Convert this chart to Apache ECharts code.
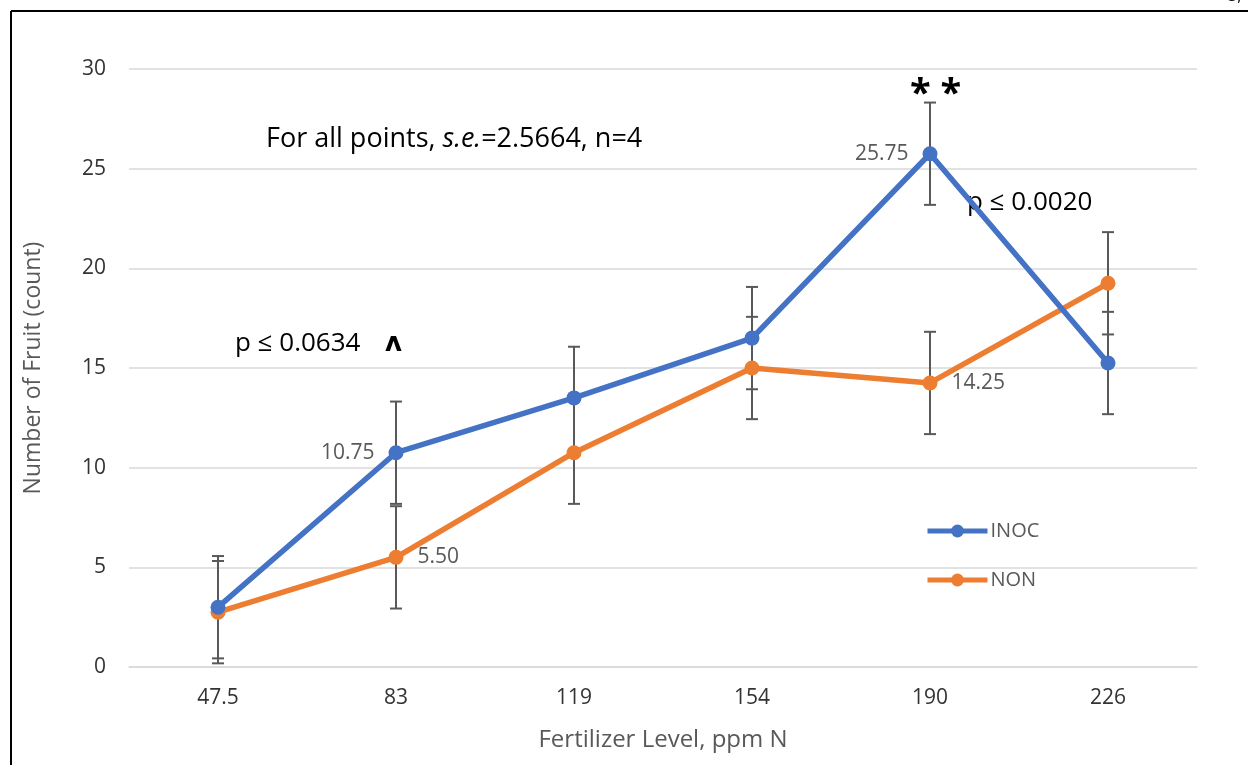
<!DOCTYPE html>
<html>
<head>
<meta charset="utf-8">
<script src="https://cdn.jsdelivr.net/npm/echarts@6/dist/echarts.min.js"></script>
<style>
html,body{margin:0;padding:0;background:#fff;}
#chart{width:1248px;height:765px;}
</style>
</head>
<body>
<div id="chart"></div>
<script>
const categories = ['47.5', '83', '119', '154', '190', '226'];
const inocValues = [3, 10.75, 13.5, 16.5, 25.75, 15.25];
const nonValues = [2.75, 5.5, 10.75, 15, 14.25, 19.25];
const stdErr = 2.5664;
const yTicks = [0, 5, 10, 15, 20, 25, 30];
// which points carry a data label and on which side
const inocLabels = {1: 'left', 4: 'left'};
const nonLabels = {1: 'right', 4: 'right'};

const FONT = '"Open Sans", "Noto Sans", sans-serif';
const BLUE = '#4472C4';
const ORANGE = '#ED7D31';

function buildData(values, labels) {
  return values.map((v, i) => {
    if (labels[i]) {
      return {
        value: v,
        label: {
          show: true, position: labels[i], distance: 14,
          formatter: p => Number(p.value).toFixed(2),
          color: '#595959', fontSize: 21, fontFamily: FONT
        }
      };
    }
    return v;
  });
}

function errSeries(values, name) {
  return {
    type: 'custom',
    name: name + '_err',
    z: 1,
    silent: true,
    data: values.map((v, i) => [i, v]),
    renderItem: function (params, api) {
      const x = api.value(0), y = api.value(1);
      const top = api.coord([x, y + stdErr]);
      const bot = api.coord([x, y - stdErr]);
      const hw = 6;
      const style = {stroke: '#595959', lineWidth: 2};
      return {
        type: 'group',
        children: [
          {type: 'line', shape: {x1: top[0], y1: top[1], x2: bot[0], y2: bot[1]}, style},
          {type: 'line', shape: {x1: top[0] - hw, y1: top[1], x2: top[0] + hw, y2: top[1]}, style},
          {type: 'line', shape: {x1: bot[0] - hw, y1: bot[1], x2: bot[0] + hw, y2: bot[1]}, style}
        ]
      };
    }
  };
}

const chart = echarts.init(document.getElementById('chart'), null, {renderer: 'canvas'});
chart.setOption({
  animation: false,
  backgroundColor: '#fff',
  grid: {left: 129, right: 51, top: 69, bottom: 98},
  xAxis: {
    type: 'category',
    data: categories,
    boundaryGap: true,
    name: 'Fertilizer Level, ppm N',
    nameLocation: 'middle',
    nameGap: 61,
    nameTextStyle: {color: '#595959', fontSize: 24, fontFamily: FONT},
    axisLine: {show: true, lineStyle: {color: '#d9d9d9', width: 1.5}},
    axisTick: {show: false},
    axisLabel: {color: '#333', fontSize: 21, fontFamily: FONT, margin: 21}
  },
  yAxis: {
    type: 'value',
    min: yTicks[0], max: yTicks[yTicks.length - 1], interval: 5,
    name: 'Number of Fruit (count)',
    nameLocation: 'middle',
    nameGap: 84,
    nameTextStyle: {color: '#595959', fontSize: 23, fontFamily: FONT},
    axisLine: {show: false},
    axisTick: {show: false},
    axisLabel: {color: '#333', fontSize: 21, fontFamily: FONT, margin: 23},
    splitLine: {lineStyle: {color: '#d9d9d9', width: 1.5}}
  },
  legend: {
    orient: 'vertical',
    left: 920, top: 516,
    itemWidth: 60, itemHeight: 16,
    itemGap: 29,
    data: ['INOC', 'NON'],
    lineStyle: {width: 5},
    textStyle: {color: '#595959', fontSize: 20, fontFamily: FONT, padding: [0, 0, 0, -2]}
  },
  series: [
    errSeries(inocValues, 'INOC'),
    errSeries(nonValues, 'NON'),
    {
      name: 'NON', type: 'line', z: 3,
      data: buildData(nonValues, nonLabels),
      symbol: 'circle', symbolSize: 15,
      lineStyle: {color: ORANGE, width: 5.5},
      itemStyle: {color: ORANGE}
    },
    {
      name: 'INOC', type: 'line', z: 4,
      data: buildData(inocValues, inocLabels),
      symbol: 'circle', symbolSize: 15,
      lineStyle: {color: BLUE, width: 5.5},
      itemStyle: {color: BLUE}
    }
  ],
  graphic: [
    {type: 'line', shape: {x1: 11, y1: 11, x2: 1248, y2: 11}, style: {stroke: '#000', lineWidth: 2}},
    {type: 'line', shape: {x1: 11, y1: 11, x2: 11, y2: 765}, style: {stroke: '#000', lineWidth: 2}},
    {type: 'text', left: 1228, top: -12, style: {text: '3,', fontSize: 16, fontFamily: FONT, fill: '#000'}},
    {
      type: 'text', left: 266, top: 126,
      style: {
        text: '{n|For all points, }{i|s.e.}{n|=2.5664, n=4}',
        rich: {
          n: {fontSize: 27, fontFamily: FONT, fill: '#000'},
          i: {fontSize: 27, fontFamily: FONT, fontStyle: 'italic', fill: '#000'}
        }
      }
    },
    {type: 'text', left: 235, top: 331, style: {text: 'p ≤ 0.0634', fontSize: 26, fontFamily: FONT, fill: '#000'}},
    {type: 'text', left: 385, top: 331, style: {text: 'ʌ', fontSize: 26, fontWeight: 'bold', fontFamily: '"DejaVu Sans", sans-serif', fill: '#000'}},
    {type: 'text', left: 910, top: 76, style: {text: '* *', fontSize: 38, fontWeight: 'bold', fontFamily: FONT, fill: '#000'}},
    {type: 'text', left: 967, top: 190, style: {text: 'p ≤ 0.0020', fontSize: 26, fontFamily: FONT, fill: '#000'}}
  ]
});
</script>
</body>
</html>
